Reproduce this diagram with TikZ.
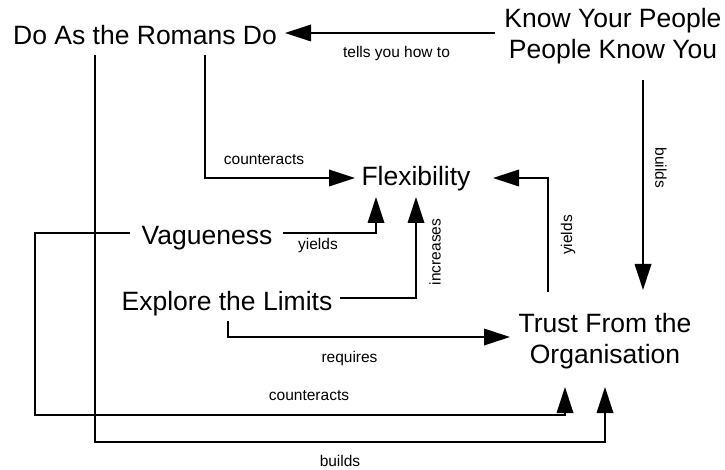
\documentclass[tikz,border=0pt]{standalone}
\usepackage{fontspec}
\setmainfont{Liberation Sans}
\usetikzlibrary{arrows.meta}
\begin{document}
\begin{tikzpicture}[x=1pt,y=-1pt,
  big/.style={font=\fontsize{26.5}{30.5}\selectfont, inner sep=0pt, align=center},
  lbl/.style={font=\fontsize{15.5}{18}\selectfont, inner sep=0pt},
  conn/.style={line width=1.8pt, -{Triangle[length=26pt,width=16.5pt]}}
]
\fill[white] (0,0) rectangle (725,470);
\useasboundingbox (0,0) rectangle (725,470);

% concept nodes
\node[big, anchor=base] (romans) at (145,45) {Do As the Romans Do};
\node[big] (know) at (613,36) {Know Your People\\People Know You};
\node[big, anchor=base] (flex) at (416,186) {Flexibility};
\node[big, anchor=base] (vague) at (207,245) {Vagueness};
\node[big, anchor=base] (explore) at (227,310) {Explore the Limits};
\node[big] (trust) at (605,341) {Trust From the\\Organisation};

% connectors
\draw[conn] ([shift={(-118,-3)}]know.center) -- ([shift={(140,-12)}]romans.base);
\draw[conn] ([shift={(30,44)}]know.center) -- ([shift={(38,-51)}]trust.center);
\draw[conn] ([shift={(60,10)}]romans.base) |- ([shift={(-61,-8)}]flex.base);
\draw[conn] ([shift={(-50,10)}]romans.base) -- ++(0,387) -| ([shift={(0,46)}]trust.center);
\draw[conn] ([shift={(-77,-12)}]vague.base) -- ++(-95,0) -- ++(0,182) -| ([shift={(-40,46)}]trust.center);
\draw[conn] ([shift={(76,-12)}]vague.base) -| ([shift={(-40,11)}]flex.base);
\draw[conn] ([shift={(113,-12)}]explore.base) -| ([shift={(0,11)}]flex.base);
\draw[conn] ([shift={(1,11)}]explore.base) |- ([shift={(-95,-4)}]trust.center);
\draw[conn] ([shift={(-57,-49)}]trust.center) |- ([shift={(77,-8)}]flex.base);

% connector labels
\node[lbl] (ltells) at (396.5,53) {tells you how to};
\node[lbl, rotate=-90] (lbuilds1) at (661,168) {builds};
\node[lbl] (lcount1) at (264,160) {counteracts};
\node[lbl] (lyields1) at (318,245) {yields};
\node[lbl, rotate=90] (lincr) at (435,252) {increases};
\node[lbl, rotate=90] (lyields2) at (568,235) {yields};
\node[lbl] (lreq) at (349.5,358) {requires};
\node[lbl] (lcount2) at (309,396) {counteracts};
\node[lbl] (lbuilds2) at (340,461) {builds};
\end{tikzpicture}
\end{document}
